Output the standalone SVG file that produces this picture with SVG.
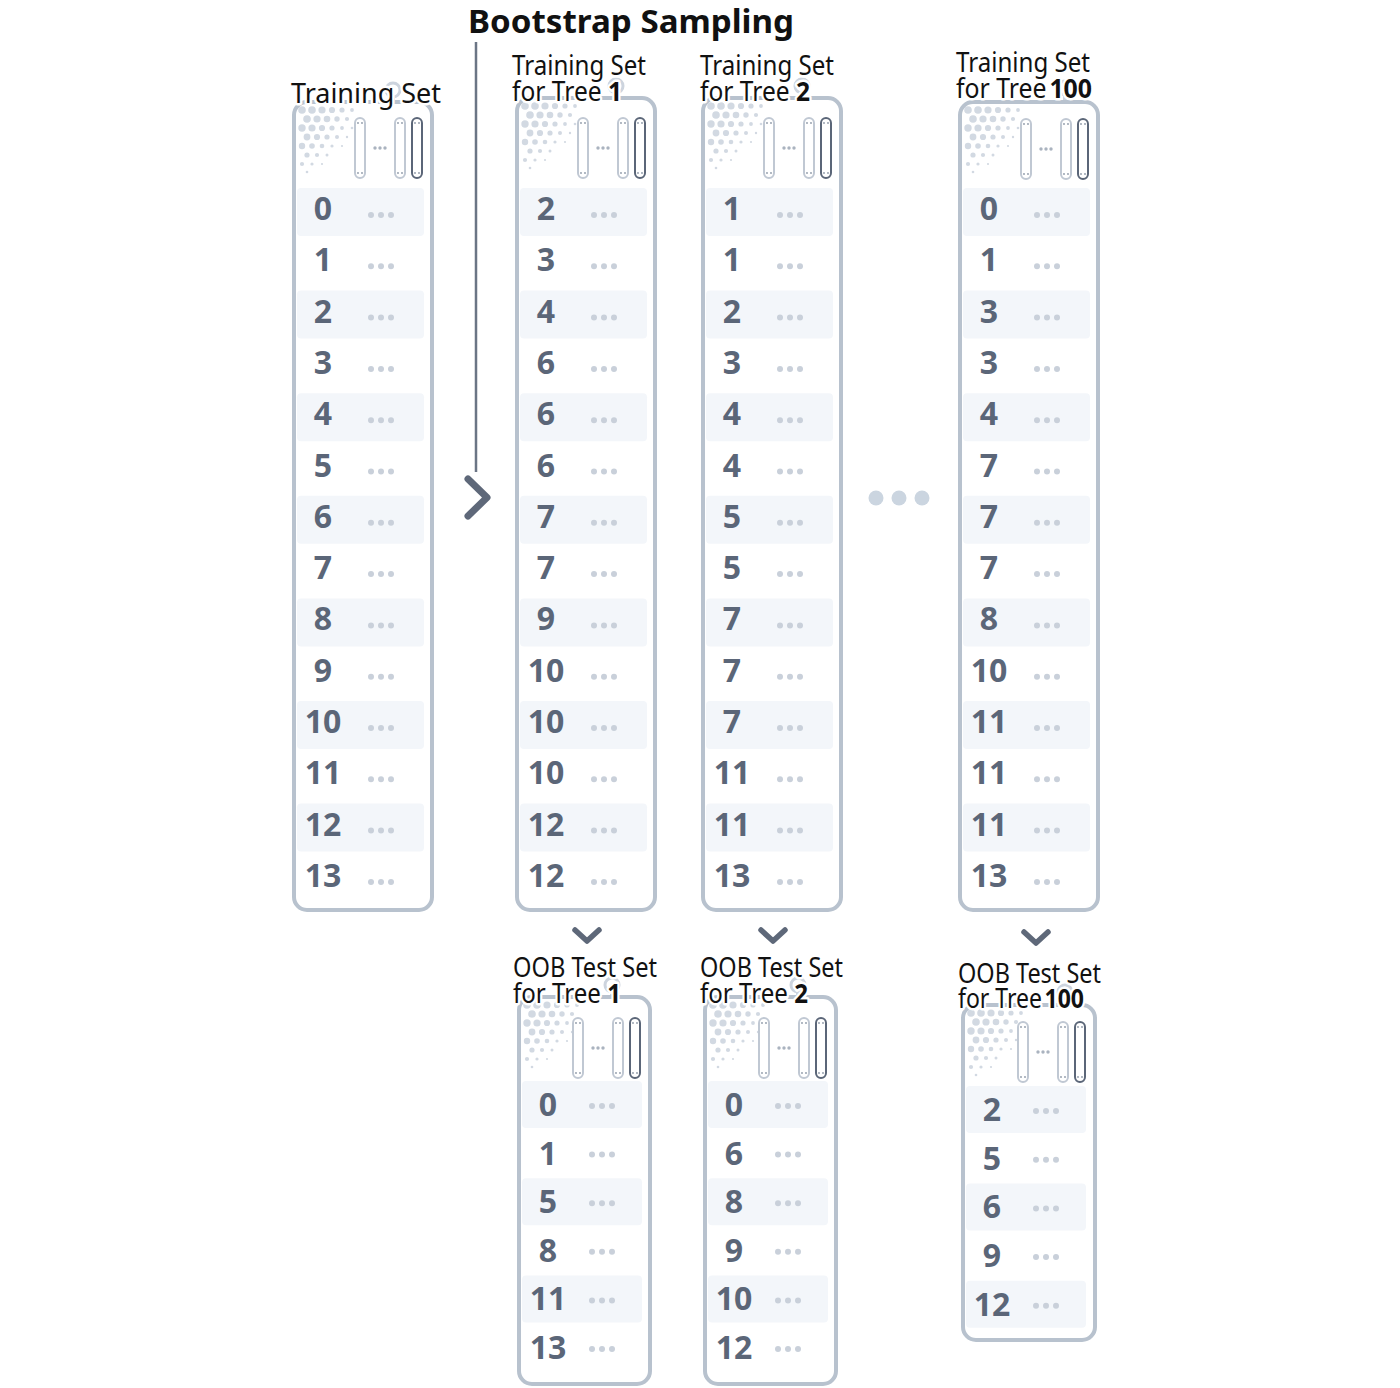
<svg xmlns="http://www.w3.org/2000/svg" xmlns:xlink="http://www.w3.org/1999/xlink" width="1400" height="1388" viewBox="0 0 1400 1388">
<style>
.frame{fill:#fff;stroke:#b8c2ce;stroke-width:4}
.band{fill:#f3f6fa}
.num{font-family:"Noto Sans","DejaVu Sans",sans-serif;font-weight:700;font-size:32px;fill:#5b6678;text-anchor:middle}
.lbl{font-family:"Noto Sans","DejaVu Sans",sans-serif;font-size:27px;fill:#111;stroke:#fff;stroke-width:5;stroke-linejoin:round;paint-order:stroke}
.b{font-weight:700}
.title{font-family:"Noto Sans","DejaVu Sans",sans-serif;font-weight:700;font-size:33px;fill:#111;stroke:#fff;stroke-width:4;stroke-linejoin:round;paint-order:stroke}
.pin{fill:#fff;stroke:#cdd4de;stroke-width:3}
.stem{fill:#cdd4de}
.conn{fill:none;stroke:#5e6879;stroke-linecap:round;stroke-linejoin:round}
.pl{fill:#fff;stroke:#c0c8d3;stroke-width:2}
.pd{fill:#fff;stroke:#5b6678;stroke-width:2}
.pe{fill:#8e99a8}
</style>
<defs>
<g id="ht" fill="#d2d9e2">
<circle cx="5" cy="5" r="3.8"/><circle cx="15" cy="5" r="3.8"/><circle cx="25" cy="5" r="3.6"/><circle cx="35" cy="5" r="3.1"/><circle cx="45" cy="5" r="2.6"/><circle cx="55" cy="5" r="1.9"/>
<circle cx="10" cy="14" r="3.8"/><circle cx="20" cy="14" r="3.6"/><circle cx="30" cy="14" r="3.3"/><circle cx="40" cy="14" r="2.7"/><circle cx="50" cy="14" r="2.1"/>
<circle cx="5" cy="23" r="3.7"/><circle cx="15" cy="23" r="3.6"/><circle cx="25" cy="23" r="3.1"/><circle cx="35" cy="23" r="2.6"/><circle cx="45" cy="23" r="1.9"/><circle cx="55" cy="23" r="1.3"/>
<circle cx="10" cy="32" r="3.4"/><circle cx="20" cy="32" r="3.1"/><circle cx="30" cy="32" r="2.6"/><circle cx="40" cy="32" r="2"/><circle cx="50" cy="32" r="1.2"/>
<circle cx="5" cy="41" r="3.2"/><circle cx="15" cy="41" r="2.8"/><circle cx="25" cy="41" r="2.3"/><circle cx="35" cy="41" r="1.6"/><circle cx="45" cy="41" r="1.1"/>
<circle cx="10" cy="50" r="2.6"/><circle cx="20" cy="50" r="2.1"/><circle cx="30" cy="50" r="1.5"/>
<circle cx="5" cy="59" r="2.1"/><circle cx="15" cy="59" r="1.6"/><circle cx="25" cy="59" r="1.1"/>
<circle cx="10" cy="67" r="1.3"/>
</g>
<g id="pills">
<rect class="pl" x="-79" y="0" width="10" height="60" rx="5"/>
<rect class="pl" x="-39" y="0" width="10" height="60" rx="5"/>
<rect class="pd" x="-22" y="0" width="10" height="60" rx="5"/>
<g fill="#aab3bf"><circle cx="-59" cy="30" r="1.7"/><circle cx="-54" cy="30" r="1.7"/><circle cx="-49" cy="30" r="1.7"/></g>
<g class="pe">
<circle cx="-76" cy="5" r="0.9"/><circle cx="-72" cy="5" r="0.9"/><circle cx="-76" cy="55" r="0.9"/><circle cx="-72" cy="55" r="0.9"/>
<circle cx="-36" cy="5" r="0.9"/><circle cx="-32" cy="5" r="0.9"/><circle cx="-36" cy="55" r="0.9"/><circle cx="-32" cy="55" r="0.9"/>
<circle cx="-19" cy="5" r="0.9"/><circle cx="-15" cy="5" r="0.9"/><circle cx="-19" cy="55" r="0.9"/><circle cx="-15" cy="55" r="0.9"/>
</g>
</g>
<g id="dots3" fill="#c9d0da"><circle cx="0" cy="0" r="3"/><circle cx="10" cy="0" r="3"/><circle cx="20" cy="0" r="3"/></g>
<g id="bandsBig">
<rect class="band" x="0" y="188" width="127" height="48" rx="4"/>
<rect class="band" x="0" y="290.6" width="127" height="48" rx="4"/>
<rect class="band" x="0" y="393.2" width="127" height="48" rx="4"/>
<rect class="band" x="0" y="495.8" width="127" height="48" rx="4"/>
<rect class="band" x="0" y="598.4" width="127" height="48" rx="4"/>
<rect class="band" x="0" y="701" width="127" height="48" rx="4"/>
<rect class="band" x="0" y="803.6" width="127" height="48" rx="4"/>
</g>
<g id="dotsBig">
<use xlink:href="#dots3" y="215"/><use xlink:href="#dots3" y="266.3"/><use xlink:href="#dots3" y="317.6"/><use xlink:href="#dots3" y="368.9"/><use xlink:href="#dots3" y="420.2"/><use xlink:href="#dots3" y="471.5"/><use xlink:href="#dots3" y="522.8"/><use xlink:href="#dots3" y="574.1"/><use xlink:href="#dots3" y="625.4"/><use xlink:href="#dots3" y="676.7"/><use xlink:href="#dots3" y="728"/><use xlink:href="#dots3" y="779.3"/><use xlink:href="#dots3" y="830.6"/><use xlink:href="#dots3" y="881.9"/>
</g>
<g id="bandsOob">
<rect class="band" x="0" y="1081" width="120" height="47" rx="4"/>
<rect class="band" x="0" y="1178.2" width="120" height="47" rx="4"/>
<rect class="band" x="0" y="1275.4" width="120" height="47" rx="4"/>
</g>
<g id="dotsOob">
<use xlink:href="#dots3" y="1106"/><use xlink:href="#dots3" y="1154.6"/><use xlink:href="#dots3" y="1203.2"/><use xlink:href="#dots3" y="1251.8"/><use xlink:href="#dots3" y="1300.4"/><use xlink:href="#dots3" y="1349"/>
</g>
<g id="bandsOob3">
<rect class="band" x="0" y="1086" width="120" height="47" rx="4"/>
<rect class="band" x="0" y="1183.4" width="120" height="47" rx="4"/>
<rect class="band" x="0" y="1280.8" width="120" height="47" rx="4"/>
</g>
<g id="dotsOob3">
<use xlink:href="#dots3" y="1111"/><use xlink:href="#dots3" y="1159.7"/><use xlink:href="#dots3" y="1208.4"/><use xlink:href="#dots3" y="1257.1"/><use xlink:href="#dots3" y="1305.8"/>
</g>
</defs>

<text class="title" x="468" y="33" textLength="326" lengthAdjust="spacingAndGlyphs">Bootstrap Sampling</text>

<g id="connectors">
<line x1="476" y1="42" x2="476" y2="472" stroke="#6b7585" stroke-width="2.5"/>
<path class="conn" d="M468 479 L487 497.5 L468 516" stroke-width="7"/>
<path class="conn" d="M575 930 L587 941 L599 930" stroke-width="5.5"/>
<path class="conn" d="M761 930 L773 941 L785 930" stroke-width="5.5"/>
<path class="conn" d="M1024 932 L1036 943 L1048 932" stroke-width="5.5"/>
</g>

<g id="ellipsis" fill="#cbd5e0">
<circle cx="876" cy="498" r="7.5"/><circle cx="899" cy="498" r="7.5"/><circle cx="922" cy="498" r="7.5"/>
</g>

<g id="training-set">
<rect class="stem" x="391" y="94" width="4" height="8"/>
<circle class="pin" cx="393" cy="90" r="7"/>
<rect class="frame" x="294" y="102" width="138" height="808" rx="13"/>
<use xlink:href="#ht" x="297" y="105"/>
<use xlink:href="#pills" x="434" y="118"/>
<use xlink:href="#bandsBig" x="297"/>
<use xlink:href="#dotsBig" x="371"/>
<g class="num" transform="translate(323 0)">
<text y="220">0</text><text y="271.3">1</text><text y="322.6">2</text><text y="373.9">3</text><text y="425.2">4</text><text y="476.5">5</text><text y="527.8">6</text><text y="579.1">7</text><text y="630.4">8</text><text y="681.7">9</text><text y="733">10</text><text y="784.3">11</text><text y="835.6">12</text><text y="886.9">13</text>
</g>
<text class="lbl" x="291" y="103" textLength="150" lengthAdjust="spacingAndGlyphs">Training Set</text>
</g>

<g id="train-tree-1">
<rect class="stem" x="614" y="90" width="4" height="8"/>
<circle class="pin" cx="616" cy="86" r="7"/>
<rect class="frame" x="517" y="98" width="138" height="812" rx="13"/>
<use xlink:href="#ht" x="520" y="101"/>
<use xlink:href="#pills" x="657" y="118"/>
<use xlink:href="#bandsBig" x="520"/>
<use xlink:href="#dotsBig" x="594"/>
<g class="num" transform="translate(546 0)">
<text y="220">2</text><text y="271.3">3</text><text y="322.6">4</text><text y="373.9">6</text><text y="425.2">6</text><text y="476.5">6</text><text y="527.8">7</text><text y="579.1">7</text><text y="630.4">9</text><text y="681.7">10</text><text y="733">10</text><text y="784.3">10</text><text y="835.6">12</text><text y="886.9">12</text>
</g>
<text class="lbl" x="512" y="75" textLength="134" lengthAdjust="spacingAndGlyphs">Training Set</text>
<text class="lbl" x="512" y="101" textLength="110" lengthAdjust="spacingAndGlyphs">for Tree <tspan class="b">1</tspan></text>
</g>

<g id="train-tree-2">
<rect class="stem" x="800" y="90" width="4" height="8"/>
<circle class="pin" cx="802" cy="86" r="7"/>
<rect class="frame" x="703" y="98" width="138" height="812" rx="13"/>
<use xlink:href="#ht" x="706" y="101"/>
<use xlink:href="#pills" x="843" y="118"/>
<use xlink:href="#bandsBig" x="706"/>
<use xlink:href="#dotsBig" x="780"/>
<g class="num" transform="translate(732 0)">
<text y="220">1</text><text y="271.3">1</text><text y="322.6">2</text><text y="373.9">3</text><text y="425.2">4</text><text y="476.5">4</text><text y="527.8">5</text><text y="579.1">5</text><text y="630.4">7</text><text y="681.7">7</text><text y="733">7</text><text y="784.3">11</text><text y="835.6">11</text><text y="886.9">13</text>
</g>
<text class="lbl" x="700" y="75" textLength="134" lengthAdjust="spacingAndGlyphs">Training Set</text>
<text class="lbl" x="700" y="101" textLength="110" lengthAdjust="spacingAndGlyphs">for Tree <tspan class="b">2</tspan></text>
</g>

<g id="train-tree-100">
<rect class="stem" x="1063" y="94" width="4" height="8"/>
<circle class="pin" cx="1065" cy="88" r="7"/>
<rect class="frame" x="960" y="102" width="138" height="808" rx="13"/>
<use xlink:href="#ht" x="963" y="105"/>
<use xlink:href="#pills" x="1100" y="119"/>
<use xlink:href="#bandsBig" x="963"/>
<use xlink:href="#dotsBig" x="1037"/>
<g class="num" transform="translate(989 0)">
<text y="220">0</text><text y="271.3">1</text><text y="322.6">3</text><text y="373.9">3</text><text y="425.2">4</text><text y="476.5">7</text><text y="527.8">7</text><text y="579.1">7</text><text y="630.4">8</text><text y="681.7">10</text><text y="733">11</text><text y="784.3">11</text><text y="835.6">11</text><text y="886.9">13</text>
</g>
<text class="lbl" x="956" y="72" textLength="134" lengthAdjust="spacingAndGlyphs">Training Set</text>
<text class="lbl" x="956" y="98" textLength="136" lengthAdjust="spacingAndGlyphs">for Tree<tspan class="b" dx="3">100</tspan></text>
</g>

<g id="oob-tree-1">
<rect class="stem" x="610" y="989" width="4" height="8"/>
<circle class="pin" cx="612" cy="985" r="7"/>
<rect class="frame" x="519" y="997" width="131" height="387" rx="13"/>
<use xlink:href="#ht" x="522" y="1000"/>
<use xlink:href="#pills" x="652" y="1018"/>
<use xlink:href="#bandsOob" x="522"/>
<use xlink:href="#dotsOob" x="592"/>
<g class="num" transform="translate(548 0)">
<text y="1116">0</text><text y="1164.6">1</text><text y="1213.2">5</text><text y="1261.8">8</text><text y="1310.4">11</text><text y="1359">13</text>
</g>
<text class="lbl" x="513" y="977" textLength="144" lengthAdjust="spacingAndGlyphs">OOB Test Set</text>
<text class="lbl" x="513" y="1003" textLength="108" lengthAdjust="spacingAndGlyphs">for Tree <tspan class="b">1</tspan></text>
</g>

<g id="oob-tree-2">
<rect class="stem" x="796" y="989" width="4" height="8"/>
<circle class="pin" cx="798" cy="985" r="7"/>
<rect class="frame" x="705" y="997" width="131" height="387" rx="13"/>
<use xlink:href="#ht" x="708" y="1000"/>
<use xlink:href="#pills" x="838" y="1018"/>
<use xlink:href="#bandsOob" x="708"/>
<use xlink:href="#dotsOob" x="778"/>
<g class="num" transform="translate(734 0)">
<text y="1116">0</text><text y="1164.6">6</text><text y="1213.2">8</text><text y="1261.8">9</text><text y="1310.4">10</text><text y="1359">12</text>
</g>
<text class="lbl" x="700" y="977" textLength="143" lengthAdjust="spacingAndGlyphs">OOB Test Set</text>
<text class="lbl" x="700" y="1003" textLength="108" lengthAdjust="spacingAndGlyphs">for Tree <tspan class="b">2</tspan></text>
</g>

<g id="oob-tree-100">
<rect class="stem" x="1063" y="997" width="4" height="8"/>
<circle class="pin" cx="1065" cy="992" r="7"/>
<rect class="frame" x="963" y="1005" width="132" height="335" rx="13"/>
<use xlink:href="#ht" x="966" y="1008"/>
<use xlink:href="#pills" x="1097" y="1022"/>
<use xlink:href="#bandsOob3" x="966"/>
<use xlink:href="#dotsOob3" x="1036"/>
<g class="num" transform="translate(992 0)">
<text y="1121">2</text><text y="1169.7">5</text><text y="1218.4">6</text><text y="1267.1">9</text><text y="1315.8">12</text>
</g>
<text class="lbl" x="958" y="983" textLength="143" lengthAdjust="spacingAndGlyphs">OOB Test Set</text>
<text class="lbl" x="958" y="1008" textLength="126" lengthAdjust="spacingAndGlyphs">for Tree<tspan class="b" dx="3">100</tspan></text>
</g>
</svg>
